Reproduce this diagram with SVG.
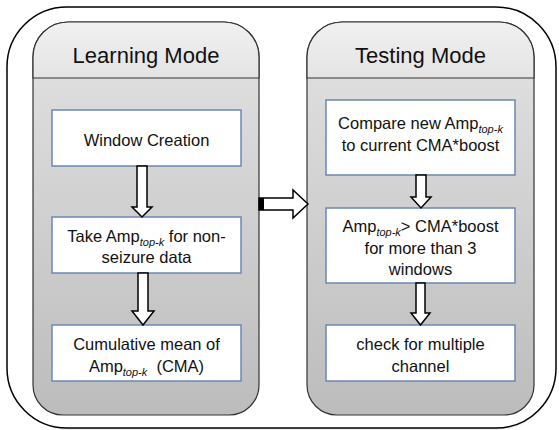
<svg xmlns="http://www.w3.org/2000/svg" width="559" height="430" viewBox="0 0 559 430">
<defs>
<linearGradient id="body" x1="0" y1="0" x2="0" y2="1">
<stop offset="0" stop-color="#e3e3e3"/>
<stop offset="1" stop-color="#bcbcbc"/>
</linearGradient>
<linearGradient id="head" x1="0" y1="0" x2="0" y2="1">
<stop offset="0" stop-color="#f0f0f0"/>
<stop offset="1" stop-color="#e4e4e4"/>
</linearGradient>
</defs>
<style>
.frame{fill:#fff;stroke:#000;stroke-width:1.5}
.panel{fill:url(#body);stroke:#333;stroke-width:1.2}
.hdr{fill:url(#head);stroke:#333;stroke-width:1.2}
.box{fill:#fff;stroke:#6a88b5;stroke-width:1.5}
.arrow{fill:#fff;stroke:#000;stroke-width:1.5;stroke-linejoin:miter}
.title{font-family:"Liberation Sans",Arial,sans-serif;font-size:22px;fill:#111;text-anchor:middle}
.t{font-family:"Liberation Sans",Arial,sans-serif;font-size:16.5px;fill:#111;text-anchor:middle}
.sub{font-style:italic;font-size:11px}
</style>
<rect x="10" y="10" width="546" height="420" rx="60" fill="#ddd" opacity="0.5"/>
<rect class="frame" x="7" y="7" width="549" height="421" rx="60"/>

<g id="learning-mode">
<path class="panel" d="M33,57 A35,35 0 0 1 68,22 L224,22 A35,35 0 0 1 259,57 L259,385 A30,30 0 0 1 229,415 L63,415 A30,30 0 0 1 33,385 Z"/>
<path class="hdr" d="M33,78 L33,57 A35,35 0 0 1 68,22 L224,22 A35,35 0 0 1 259,57 L259,78 Z"/>
<text class="title" x="146" y="63">Learning Mode</text>
</g>

<g id="testing-mode">
<path class="panel" d="M307,57 A35,35 0 0 1 342,22 L499,22 A35,35 0 0 1 534,57 L534,385 A30,30 0 0 1 504,415 L337,415 A30,30 0 0 1 307,385 Z"/>
<path class="hdr" d="M307,78 L307,57 A35,35 0 0 1 342,22 L499,22 A35,35 0 0 1 534,57 L534,78 Z"/>
<text class="title" x="420.5" y="63">Testing Mode</text>
</g>

<g id="window-creation">
<rect class="box" x="52" y="110" width="189" height="56"/>
<text class="t" x="146.5" y="146">Window Creation</text>
</g>

<g id="take-amp">
<rect class="box" x="52" y="217" width="189" height="56"/>
<text class="t" x="146.5" y="242">Take Amp<tspan class="sub" dy="4">top-k</tspan><tspan dy="-4"> for non-</tspan></text>
<text class="t" x="146.5" y="263">seizure data</text>
</g>

<g id="cma">
<rect class="box" x="52" y="325" width="189" height="56"/>
<text class="t" x="146.5" y="350">Cumulative mean of</text>
<text class="t" x="146.5" y="372">Amp<tspan class="sub" dy="4">top-k</tspan><tspan dy="-4">&#160; (CMA)</tspan></text>
</g>

<g id="compare">
<rect class="box" x="326" y="100" width="189" height="75"/>
<text class="t" x="420.5" y="129">Compare new Amp<tspan class="sub" dy="4">top-k</tspan></text>
<text class="t" x="420.5" y="151">to current CMA*boost</text>
</g>

<g id="amp-gt">
<rect class="box" x="326" y="208" width="189" height="75"/>
<text class="t" x="420.5" y="232">Amp<tspan class="sub" dy="4">top-k</tspan><tspan dy="-4">&gt; CMA*boost</tspan></text>
<text class="t" x="420.5" y="254">for more than 3</text>
<text class="t" x="420.5" y="275">windows</text>
</g>

<g id="check-multiple">
<rect class="box" x="326" y="325" width="189" height="56"/>
<text class="t" x="420.5" y="350">check for multiple</text>
<text class="t" x="420.5" y="372">channel</text>
</g>

<g id="connectors">
<polygon class="arrow" points="137,166 147,166 147,207 152,207 142,217 132,207 137,207"/>
<polygon class="arrow" points="138,273 148,273 148,311 154,311 143,325 132,311 138,311"/>
<polygon class="arrow" points="416,175 426,175 426,197 431,197 421,208 411,197 416,197"/>
<polygon class="arrow" points="416,283 425,283 425,313 430,313 420.5,325 411,313 416,313"/>
<polygon class="arrow" points="259,198 293,198 293,190 308,204 293,218 293,210 259,210"/>
<rect x="259" y="198" width="5" height="12" fill="#000"/>
</g>
</svg>
